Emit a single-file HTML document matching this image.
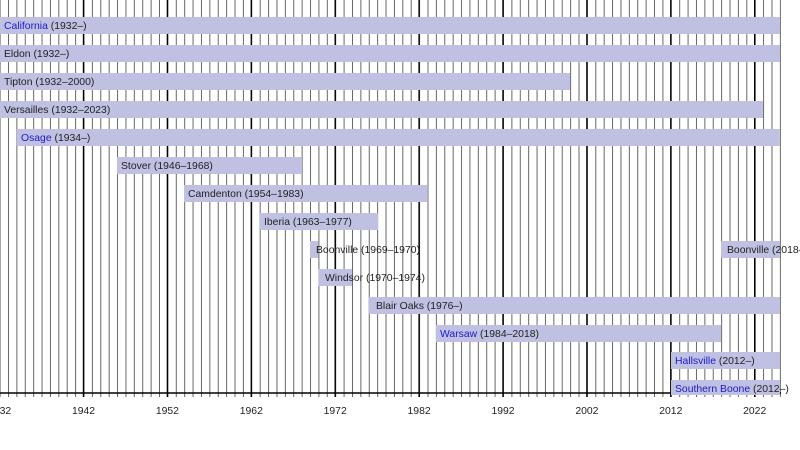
<!DOCTYPE html>
<html><head><style>
html,body{margin:0;padding:0;background:#fff;}
svg text{font-family:"Liberation Sans",sans-serif;font-size:10.4px;}
</style></head><body>
<svg width="800" height="445" xmlns="http://www.w3.org/2000/svg">
<defs>
<pattern id="g" patternUnits="userSpaceOnUse" x="-0.4" y="0" width="8.39" height="10">
<line x1="0.5" y1="0" x2="0.5" y2="10" stroke="#666" stroke-width="1"/>
</pattern>
</defs>
<rect x="0" y="0" width="781" height="397" fill="url(#g)"/>
<g stroke="#000" stroke-width="1.4">
<line x1="83.5" y1="0" x2="83.5" y2="397"/>
<line x1="167.4" y1="0" x2="167.4" y2="397"/>
<line x1="251.3" y1="0" x2="251.3" y2="397"/>
<line x1="335.2" y1="0" x2="335.2" y2="397"/>
<line x1="419.1" y1="0" x2="419.1" y2="397"/>
<line x1="503" y1="0" x2="503" y2="397"/>
<line x1="586.9" y1="0" x2="586.9" y2="397"/>
<line x1="670.8" y1="0" x2="670.8" y2="397"/>
<line x1="754.7" y1="0" x2="754.7" y2="397"/>
<line x1="0" y1="393" x2="781" y2="393"/>
</g>
<g fill="#c0c0e2">
<rect x="0" y="17" width="780" height="17"/>
<rect x="0" y="45" width="780" height="17"/>
<rect x="0" y="73" width="570" height="17"/>
<rect x="0" y="101" width="763" height="17"/>
<rect x="16.8" y="129" width="763" height="17"/>
<rect x="117" y="157" width="185" height="17"/>
<rect x="184" y="185" width="243" height="17"/>
<rect x="260" y="213" width="118" height="17"/>
<rect x="310" y="241" width="8.4" height="17"/>
<rect x="721" y="241" width="59" height="17"/>
<rect x="318.5" y="269" width="33.5" height="17"/>
<rect x="369" y="297" width="411" height="17"/>
<rect x="436" y="325" width="285" height="17"/>
<rect x="671" y="352" width="109" height="17"/>
<rect x="671" y="380" width="109" height="15"/>
</g>
<g fill="#222">
<text x="4" y="29"><tspan fill="#1a1acc">California</tspan> (1932–)</text>
<text x="4" y="57">Eldon (1932–)</text>
<text x="4" y="85">Tipton (1932–2000)</text>
<text x="4" y="113">Versailles (1932–2023)</text>
<text x="21" y="141"><tspan fill="#1a1acc">Osage</tspan> (1934–)</text>
<text x="121" y="169">Stover (1946–1968)</text>
<text x="188" y="197">Camdenton (1954–1983)</text>
<text x="264" y="225">Iberia (1963–1977)</text>
<text x="316" y="253">Boonville (1969–1970)</text>
<text x="727" y="253">Boonville (2018–)</text>
<text x="325" y="281">Windsor (1970–1974)</text>
<text x="376" y="309">Blair Oaks (1976–)</text>
<text x="440" y="337"><tspan fill="#1a1acc">Warsaw</tspan> (1984–2018)</text>
<text x="675" y="364"><tspan fill="#1a1acc">Hallsville</tspan> (2012–)</text>
<text x="675" y="392"><tspan fill="#1a1acc">Southern Boone</tspan> (2012–)</text>
</g>
<g fill="#222" text-anchor="middle">
<text x="-0.4" y="414">1932</text>
<text x="83.5" y="414">1942</text>
<text x="167.4" y="414">1952</text>
<text x="251.3" y="414">1962</text>
<text x="335.2" y="414">1972</text>
<text x="419.1" y="414">1982</text>
<text x="503" y="414">1992</text>
<text x="586.9" y="414">2002</text>
<text x="670.8" y="414">2012</text>
<text x="754.7" y="414">2022</text>
</g>
</svg>
</body></html>
